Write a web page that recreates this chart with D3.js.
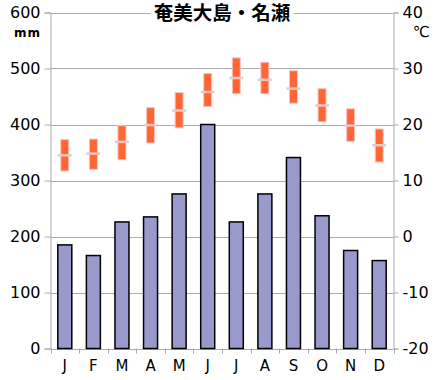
<!DOCTYPE html>
<html><head><meta charset="utf-8">
<script src="https://cdn.jsdelivr.net/npm/d3@7"></script>
<style>body{margin:0;background:#fff}svg{display:block}</style>
</head><body>
<script>
const months = ["J","F","M","A","M","J","J","A","S","O","N","D"];
const precip = [185, 166, 226, 235, 276, 400, 226, 276, 341, 237, 175, 157];
const tMax = [17.3, 17.4, 19.8, 23.0, 25.7, 29.1, 31.9, 31.1, 29.6, 26.4, 22.8, 19.2];
const tMin = [11.7, 12.0, 13.7, 16.7, 19.4, 23.2, 25.5, 25.5, 23.8, 20.5, 17.0, 13.3];
const tMean = [14.5, 14.8, 16.9, 19.9, 22.5, 25.8, 28.3, 28.0, 26.4, 23.4, 19.8, 16.3];
const precipTicks = [0, 100, 200, 300, 400, 500, 600];
const tempTicks = [-20, -10, 0, 10, 20, 30, 40];
const title = "奄美大島・名瀬";

const W = 440, H = 380;
const L = 50.5, R = 393.5, T = 12.5, B = 348.5;
const svg = d3.select("body").append("svg").attr("width", W).attr("height", H);
const font = "DejaVu Sans, Verdana, sans-serif";

const x = d3.scaleBand().domain(d3.range(12)).range([L, R]).paddingInner(0).paddingOuter(0);
const yP = d3.scaleLinear().domain([0, 600]).range([B, T]);
const yT = d3.scaleLinear().domain([-20, 40]).range([B, T]);

// gridlines
svg.append("g").selectAll("line").data(precipTicks).join("line")
  .attr("x1", L).attr("x2", R)
  .attr("y1", d => Math.round(yP(d)) + 0.5).attr("y2", d => Math.round(yP(d)) + 0.5)
  .attr("stroke", "#aaaaaa").attr("stroke-width", 1);

// axes
const axL = svg.append("g").attr("transform", `translate(${L},0)`)
  .call(d3.axisLeft(yP).tickValues(precipTicks).tickSize(6).tickPadding(4));
const axR = svg.append("g").attr("transform", `translate(${R},0)`)
  .call(d3.axisRight(yT).tickValues(tempTicks).tickSize(5).tickPadding(4).tickFormat(d => d < 0 ? "-" + Math.abs(d) : d));
const axB = svg.append("g").attr("transform", `translate(0,${B})`)
  .call(d3.axisBottom(x).tickSize(0).tickPadding(12).tickFormat(i => months[i]));
// bottom ticks at band boundaries
svg.append("g").selectAll("line").data(d3.range(13)).join("line")
  .attr("x1", i => Math.round(L + i * x.bandwidth()) + 0.5)
  .attr("x2", i => Math.round(L + i * x.bandwidth()) + 0.5)
  .attr("y1", B).attr("y2", B + 5).attr("stroke", "#aaaaaa");

[axL, axR, axB].forEach(a => {
  a.selectAll("path.domain").attr("stroke", "#aaaaaa");
  a.selectAll(".tick line").attr("stroke", "#aaaaaa");
  a.selectAll("text").attr("fill", "#000").style("font-family", font).style("font-size", "16px");
});
axB.select("path.domain").remove();
axB.selectAll("text").style("font-size", "15px");

// precipitation bars
const bw = 14;
svg.append("g").selectAll("rect").data(precip).join("rect")
  .attr("x", (d, i) => x(i) + x.bandwidth() / 2 - bw / 2)
  .attr("y", d => yP(d))
  .attr("width", bw).attr("height", d => yP(0) - yP(d))
  .attr("fill", "#9999cc").attr("stroke", "#000").attr("stroke-width", 1.5);

// temperature range bars
const tw = 8;
svg.append("g").selectAll("rect").data(tMax).join("rect")
  .attr("x", (d, i) => x(i) + x.bandwidth() / 2 - tw / 2)
  .attr("y", d => yT(d))
  .attr("width", tw).attr("height", (d, i) => yT(tMin[i]) - yT(d))
  .attr("fill", "#ff6633").attr("stroke", "#f4c4c4").attr("stroke-width", 1);

// mean markers
svg.append("g").selectAll("line").data(tMean).join("line")
  .attr("x1", (d, i) => x(i) + x.bandwidth() / 2 - 7)
  .attr("x2", (d, i) => x(i) + x.bandwidth() / 2 + 7)
  .attr("y1", d => yT(d)).attr("y2", d => yT(d))
  .attr("stroke", "#eec8c8").attr("stroke-width", 2.5);

// title with white background
const bg = svg.append("rect").attr("fill", "#fff");
const tt = svg.append("text").attr("x", 222).attr("y", 20)
  .attr("text-anchor", "middle")
  .style("font-family", "Noto Sans CJK JP, sans-serif").style("font-size", "19.5px").style("font-weight", "bold")
  .text(title);
const bb = tt.node().getBBox();
bg.attr("x", bb.x - 3).attr("y", bb.y).attr("width", bb.width + 6).attr("height", bb.height);

// unit labels
svg.append("text").attr("x", 41).attr("y", 37).attr("text-anchor", "end")
  .style("font-family", font).style("font-size", "12px").style("font-weight", "bold")
  .style("letter-spacing", "1px").text("mm");
svg.append("text").attr("x", 413).attr("y", 37)
  .style("font-family", font).style("font-size", "15px").text("℃");
</script>
</body></html>
